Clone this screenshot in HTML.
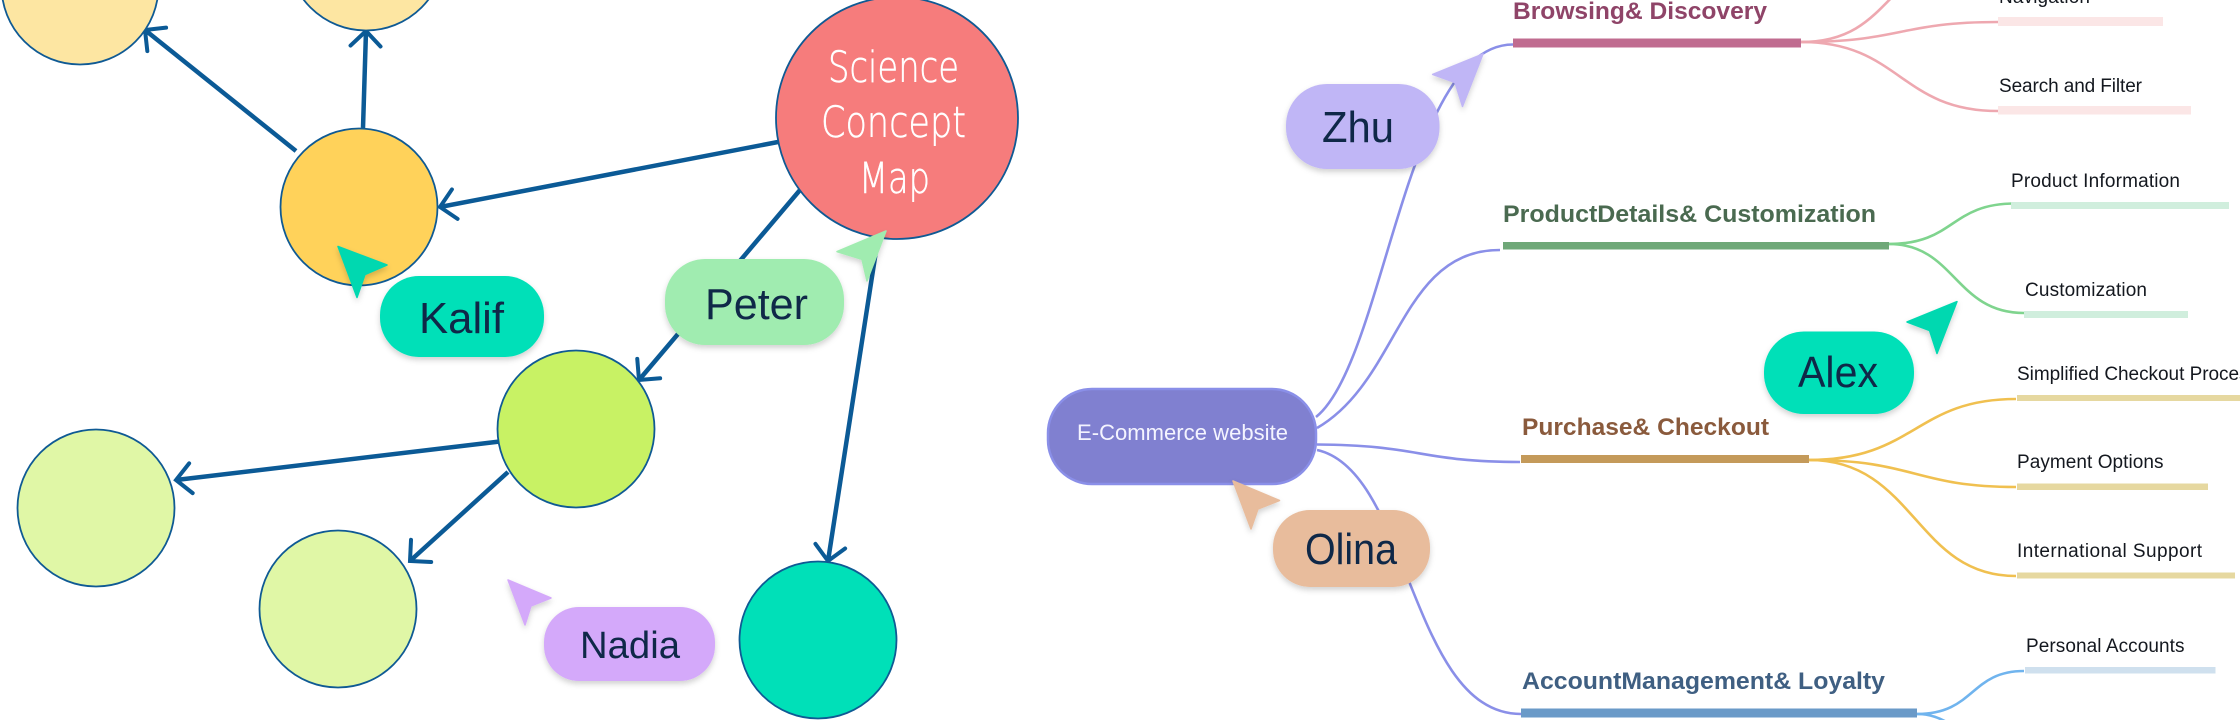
<!DOCTYPE html>
<html>
<head>
<meta charset="utf-8">
<style>
html,body{margin:0;padding:0;background:#fff;width:2240px;height:720px;overflow:hidden}
svg{display:block}
.p{font-family:"Liberation Sans",sans-serif;fill:#0f2848}
.t{font-family:"Liberation Sans",sans-serif;font-weight:700;font-size:24px}
.s{font-family:"Liberation Sans",sans-serif;font-size:19px;fill:#14181f}
.h{font-family:"DejaVu Sans Light","Liberation Sans",sans-serif;font-size:43px;fill:#fff;font-weight:300;stroke:#fff;stroke-width:.5}
</style>
</head>
<body>
<svg width="2240" height="720" viewBox="0 0 2240 720" xmlns="http://www.w3.org/2000/svg">
<defs>
<marker id="a" markerWidth="40" markerHeight="40" refX="24" refY="20" orient="auto" markerUnits="userSpaceOnUse">
<path d="M9 5 L24 20 L9 35" fill="none" stroke="#0b5a96" stroke-width="4" stroke-linecap="round" stroke-linejoin="miter"/>
</marker>
<filter id="sh" x="-20%" y="-20%" width="140%" height="150%">
<feDropShadow dx="0" dy="3" stdDeviation="3" flood-color="#000" flood-opacity=".18"/>
</filter>
</defs>

<!-- concept map arrows -->
<g stroke="#0b5a96" stroke-width="4.5" fill="none">
<line x1="296" y1="151" x2="145" y2="30" marker-end="url(#a)"/>
<line x1="363" y1="128" x2="366" y2="31" marker-end="url(#a)"/>
<line x1="778" y1="142" x2="440" y2="207" marker-end="url(#a)"/>
<line x1="800" y1="190" x2="639" y2="380" marker-end="url(#a)"/>
<line x1="880" y1="225" x2="828" y2="561" marker-end="url(#a)"/>
<line x1="504" y1="441" x2="176" y2="480" marker-end="url(#a)"/>
<line x1="508" y1="472" x2="410" y2="561" marker-end="url(#a)"/>
</g>

<!-- circles -->
<g stroke="#0f5a94" stroke-width="1.8">
<circle cx="80" cy="-14" r="78.5" fill="#fde6a2"/>
<circle cx="366" cy="-48" r="78.5" fill="#fde6a2"/>
<circle cx="359" cy="207" r="78.5" fill="#ffd25a"/>
<circle cx="897" cy="118" r="121" fill="#f67c7c"/>
<circle cx="576" cy="429" r="78.5" fill="#c8f264"/>
<circle cx="96" cy="508" r="78.5" fill="#e0f7a6"/>
<circle cx="338" cy="609" r="78.5" fill="#e0f7a6"/>
<circle cx="818" cy="640" r="78.5" fill="#00e0b8"/>
</g>

<text class="h" x="828" y="82" textLength="131" lengthAdjust="spacingAndGlyphs">Science</text>
<text class="h" x="821" y="137" textLength="145" lengthAdjust="spacingAndGlyphs">Concept</text>
<text class="h" x="859" y="193" textLength="71" lengthAdjust="spacingAndGlyphs">Map</text>

<!-- mind map main connectors -->
<g fill="none" stroke="#8a8fe8" stroke-width="2.6">
<path d="M1316 417 C1385 362 1405 44.5 1513 44.5"/>
<path d="M1317 428 C1400 380 1400 250 1500 250"/>
<path d="M1317 444.5 C1420 445 1420 462 1520 462"/>
<path d="M1317 450 C1410 470 1410 714 1521 714"/>
</g>

<!-- central node -->
<rect x="1048" y="389" width="268" height="95" rx="44" ry="44" fill="#8080d0" stroke="#8a8fe8" stroke-width="2.5"/>
<text x="1077" y="440" font-family="Liberation Sans, sans-serif" font-size="22" fill="#f4f4ff" textLength="211" lengthAdjust="spacing">E-Commerce website</text>

<!-- sub connectors -->
<g fill="none" stroke="#eea8b0" stroke-width="2.6">
<path d="M1801 42 C1850 42 1870 20 1895 -6"/>
<path d="M1801 42 C1900 42 1900 22 1998 22"/>
<path d="M1801 42 C1900 42 1900 111 1998 111"/>
</g>
<g fill="none" stroke="#7fd48e" stroke-width="2.6">
<path d="M1889 244 C1955 244 1950 203.5 2015 203.5"/>
<path d="M1889 244 C1955 244 1955 313 2024 313"/>
</g>
<g fill="none" stroke="#f0c050" stroke-width="2.6">
<path d="M1809 460 C1915 460 1915 399 2016 399"/>
<path d="M1809 460 C1915 460 1915 487 2016 487"/>
<path d="M1809 460 C1915 460 1915 576 2016 576"/>
</g>
<g fill="none" stroke="#70b4ee" stroke-width="2.6">
<path d="M1917 714 C1975 714 1970 671 2024 671"/>
<path d="M1917 714 C1930 714 1940 718 1950 724"/>
</g>

<!-- bars -->
<rect x="1513" y="38.5" width="288" height="9" fill="#c06c90"/>
<rect x="1503" y="242" width="386" height="7.5" fill="#6fa878"/>
<rect x="1521" y="455" width="288" height="8" fill="#c49a5a"/>
<rect x="1521" y="708.5" width="396" height="9" fill="#6a9ac8"/>

<rect x="1998" y="17" width="165" height="9" fill="#fbe6e6"/>
<rect x="1998" y="106" width="193" height="8.5" fill="#fbe6e6"/>
<rect x="2011" y="202" width="218" height="7" fill="#d0eedd"/>
<rect x="2024" y="311" width="164" height="7" fill="#d0eedd"/>
<rect x="2017" y="395" width="223" height="6" fill="#e6d8a0"/>
<rect x="2017" y="483.5" width="191" height="6.5" fill="#e6d8a0"/>
<rect x="2017" y="572.5" width="218" height="6" fill="#e6d8a0"/>
<rect x="2025" y="667" width="190.5" height="6.5" fill="#cfe0ee"/>

<!-- titles -->
<text class="t" x="1513" y="19" fill="#8f4468" textLength="254" lengthAdjust="spacingAndGlyphs">Browsing&amp; Discovery</text>
<text class="t" x="1503" y="222" fill="#4a6a50" textLength="373" lengthAdjust="spacingAndGlyphs">ProductDetails&amp; Customization</text>
<text class="t" x="1522" y="435" fill="#8a5a3c" textLength="247" lengthAdjust="spacingAndGlyphs">Purchase&amp; Checkout</text>
<text class="t" x="1522" y="689" fill="#3f5f82" textLength="363" lengthAdjust="spacingAndGlyphs">AccountManagement&amp; Loyalty</text>

<!-- sub labels -->
<text class="s" x="1999" y="3" textLength="91" lengthAdjust="spacing">Navigation</text>
<text class="s" x="1999" y="92" textLength="143" lengthAdjust="spacing">Search and Filter</text>
<text class="s" x="2011" y="187" textLength="169" lengthAdjust="spacing">Product Information</text>
<text class="s" x="2025" y="296" textLength="122" lengthAdjust="spacing">Customization</text>
<text class="s" x="2017" y="380" textLength="241" lengthAdjust="spacing">Simplified Checkout Process</text>
<text class="s" x="2017" y="468" textLength="146.5" lengthAdjust="spacing">Payment Options</text>
<text class="s" x="2017" y="557" textLength="185" lengthAdjust="spacing">International  Support</text>
<text class="s" x="2026" y="652" textLength="158.5" lengthAdjust="spacing">Personal Accounts</text>

<!-- collaborator pills -->
<g filter="url(#sh)">
<rect x="380" y="276" width="164" height="81" rx="39" fill="#00e0b8"/>
<rect x="665" y="259" width="179" height="86" rx="40" fill="#a0ecb0"/>
<rect x="544" y="607" width="171" height="74" rx="35" fill="#d4a9fa"/>
<rect x="1286" y="84" width="153.5" height="85" rx="41" fill="#c0b6f6"/>
<rect x="1273" y="510" width="157" height="77" rx="37" fill="#e8bc9c"/>
<rect x="1764" y="331.5" width="150" height="82.5" rx="40" fill="#00e0b8"/>
</g>
<text class="p" font-size="44" x="419" y="333" textLength="85" lengthAdjust="spacingAndGlyphs">Kalif</text>
<text class="p" font-size="44" x="705" y="319" textLength="103" lengthAdjust="spacingAndGlyphs">Peter</text>
<text class="p" font-size="38" x="580" y="658" textLength="100" lengthAdjust="spacingAndGlyphs">Nadia</text>
<text class="p" font-size="44" x="1322" y="142" textLength="72" lengthAdjust="spacingAndGlyphs">Zhu</text>
<text class="p" font-size="44" x="1305" y="564" textLength="92" lengthAdjust="spacingAndGlyphs">Olina</text>
<text class="p" font-size="44" x="1798" y="387" textLength="80" lengthAdjust="spacingAndGlyphs">Alex</text>

<!-- cursors -->
<g filter="url(#sh)" stroke-linejoin="round" stroke-width="1.5">
<polygon points="338,246.5 387,265 365,274.5 357,297.5" fill="#00d8b0" stroke="#00d8b0"/>
<polygon points="886,231 837,251.6 862,259.4 867,281" fill="#a0ecb0" stroke="#a0ecb0"/>
<polygon points="508,580 551,598 531,606 525,625" fill="#d4a9fa" stroke="#d4a9fa"/>
<polygon points="1483,54 1432.6,74.4 1455,82.6 1462.5,106.5" fill="#c0b6f6" stroke="#c0b6f6"/>
<polygon points="1233,481 1279.5,500.5 1258,509 1251,529" fill="#e8bc9c" stroke="#e8bc9c"/>
<polygon points="1957,301.6 1907,322 1929.6,330.6 1937,353.5" fill="#00d8b0" stroke="#00d8b0"/>
</g>
</svg>
</body>
</html>
